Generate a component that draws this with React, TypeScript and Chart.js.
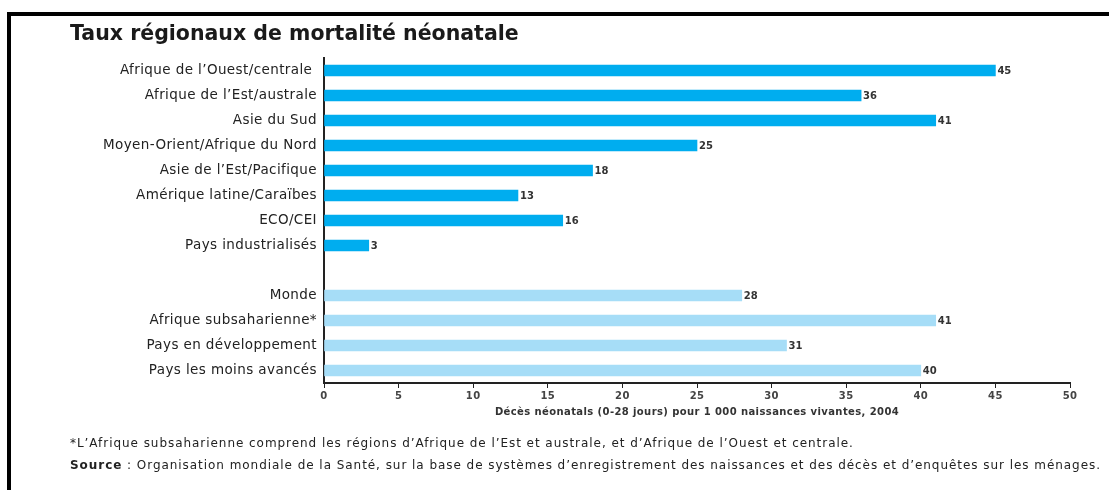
import React, { useEffect, useRef } from "react";
import { Chart, registerables } from "chart.js";

Chart.register(...registerables);

const categories = [
  "Afrique de l’Ouest/centrale ",
  "Afrique de l’Est/australe",
  "Asie du Sud",
  "Moyen-Orient/Afrique du Nord",
  "Asie de l’Est/Pacifique",
  "Amérique latine/Caraïbes",
  "ECO/CEI",
  "Pays industrialisés",
  "",
  "Monde",
  "Afrique subsaharienne*",
  "Pays en développement",
  "Pays les moins avancés",
];
const values: (number | null)[] = [45, 36, 41, 25, 18, 13, 16, 3, null, 28, 41, 31, 40];
const isAggregate = [false, false, false, false, false, false, false, false, false, true, true, true, true];
const xTicks = [0, 5, 10, 15, 20, 25, 30, 35, 40, 45, 50];

const TITLE = "Taux régionaux de mortalité néonatale";
const AXIS_TITLE = "Décès néonatals (0-28 jours) pour 1 000 naissances vivantes, 2004";
const NOTE = "*L’Afrique subsaharienne comprend les régions d’Afrique de l’Est et australe, et d’Afrique de l’Ouest et centrale.";
const SOURCE_LABEL = "Source";
const SOURCE_TEXT = " : Organisation mondiale de la Santé, sur la base de systèmes d’enregistrement des naissances et des décès et d’enquêtes sur les ménages.";

const DARK = "#00ADEF";
const LIGHT = "#A6DDF7";
const FONT = "'DejaVu Sans', Verdana, sans-serif";

const spacing = {
  id: "spacing",
  beforeDraw(chart: any) {
    chart.ctx.letterSpacing = "0.4px";
  },
  beforeDatasetsDraw(chart: any) {
    chart.ctx.letterSpacing = "0px";
  },
};

const valueLabels = {
  id: "valueLabels",
  afterDatasetsDraw(chart: any) {
    const ctx = chart.ctx;
    const meta = chart.getDatasetMeta(0);
    ctx.save();
    ctx.font = `bold 10px ${FONT}`;
    ctx.fillStyle = "#333";
    ctx.textBaseline = "middle";
    ctx.textAlign = "left";
    meta.data.forEach((bar: any, i: number) => {
      const v = values[i];
      if (v === null || v === undefined) return;
      ctx.fillText(String(v), bar.x + 2, bar.y + 0.5);
    });
    ctx.restore();
  },
};

export default function App() {
  const ref = useRef<HTMLCanvasElement>(null);
  useEffect(() => {
    if (!ref.current) return;
    const chart = new Chart(ref.current, {
      type: "bar",
      data: {
        labels: categories,
        datasets: [
          {
            data: values,
            backgroundColor: isAggregate.map((a) => (a ? LIGHT : DARK)),
            borderWidth: 0,
            barThickness: 11,
          },
        ],
      },
      options: {
        indexAxis: "y",
        animation: false,
        responsive: false,
        maintainAspectRatio: false,
        layout: { padding: { left: 0, right: 39, top: 58, bottom: 67 } },
        plugins: { legend: { display: false }, tooltip: { enabled: false } },
        scales: {
          y: {
            type: "category",
            afterFit: (s: any) => {
              s.width = 324;
            },
            grid: { display: false, drawTicks: false },
            border: { display: true, color: "#222", width: 2 },
            ticks: {
              padding: 7,
              color: "#222",
              font: { family: FONT, size: 13.5 },
              autoSkip: false,
            },
          },
          x: {
            min: 0,
            max: 50,
            afterFit: (s: any) => {
              s.height = 40;
            },
            afterBuildTicks: (s: any) => {
              s.ticks = xTicks.map((v) => ({ value: v }));
            },
            grid: {
              display: true,
              drawOnChartArea: false,
              drawTicks: true,
              tickLength: 5,
              color: "#222",
              lineWidth: 1,
            },
            border: { display: true, color: "#222", width: 2 },
            ticks: {
              padding: 2,
              color: "#444",
              font: { family: FONT, size: 10, weight: "bold" },
              maxRotation: 0,
            },
            title: {
              display: true,
              text: AXIS_TITLE,
              color: "#333",
              font: { family: FONT, size: 10, weight: "bold" },
              padding: { top: 0, bottom: 5 },
            },
          },
        },
      },
      plugins: [spacing, valueLabels],
    });
    return () => chart.destroy();
  }, []);

  return (
    <div
      style={{
        position: "absolute",
        left: 0,
        top: 0,
        width: 1109,
        height: 490,
        background: "#fff",
        overflow: "hidden",
        fontFamily: FONT,
      }}
    >
      <div style={{ position: "absolute", left: 7, top: 12, width: 1102, height: 4, background: "#000" }} />
      <div style={{ position: "absolute", left: 7, top: 12, width: 4, height: 478, background: "#000" }} />
      <canvas ref={ref} width={1109} height={490} style={{ position: "absolute", left: 0, top: 0 }} />
      <div
        style={{
          position: "absolute",
          left: 70,
          top: 21,
          fontSize: 20.5,
          fontWeight: "bold",
          color: "#1a1a1a",
          lineHeight: "24px",
          whiteSpace: "nowrap",
        }}
      >
        {TITLE}
      </div>
      <div
        style={{
          position: "absolute",
          left: 70,
          top: 435,
          fontSize: 12,
          letterSpacing: "0.95px",
          color: "#222",
          lineHeight: "16px",
          whiteSpace: "nowrap",
        }}
      >
        {NOTE}
      </div>
      <div
        style={{
          position: "absolute",
          left: 70,
          top: 457,
          fontSize: 12,
          letterSpacing: "0.95px",
          color: "#222",
          lineHeight: "16px",
          whiteSpace: "nowrap",
        }}
      >
        <b>{SOURCE_LABEL}</b>
        {SOURCE_TEXT}
      </div>
    </div>
  );
}
